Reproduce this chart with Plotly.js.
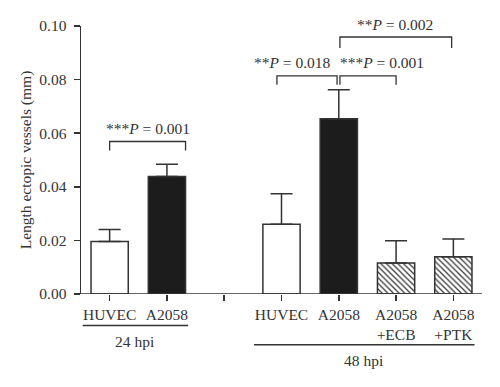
<!DOCTYPE html>
<html>
<head>
<meta charset="utf-8">
<script src="https://cdn.plot.ly/plotly-3.0.1.min.js"></script>
<style>html,body{margin:0;padding:0;background:#fff;}#chart{width:500px;height:387px;}</style>
</head>
<body>
<div id="chart"></div>
<script>
// Data
var positions = [0, 1, 3, 4, 5, 6];
var groups = ["24 hpi", "24 hpi", "48 hpi", "48 hpi", "48 hpi", "48 hpi"];
var tickLabels = ["HUVEC", "A2058", "", "HUVEC", "A2058", "A2058<br>+ECB", "A2058<br>+PTK"];
var tickPositions = [0, 1, 2, 3, 4, 5, 6];
var means = [0.0196, 0.0438, 0.0260, 0.0654, 0.0116, 0.0139];
var errUp = [0.0045, 0.0046, 0.0114, 0.0108, 0.0083, 0.0066];
var fillKind = ["open", "solid", "open", "solid", "hatch", "hatch"];
var pLabels = ["***<i>P</i> = 0.001", "**<i>P</i> = 0.018", "***<i>P</i> = 0.001", "**<i>P</i> = 0.002"];

var FONT = "Liberation Serif, Times New Roman, serif";
var INK = "#333333";
var FS = 15.5;

var traces = [];
var kinds = {open: {color: "#ffffff", pattern: {shape: ""}}, solid: {color: "#1c1c1c", pattern: {shape: ""}},
  hatch: {color: "#ffffff", pattern: {shape: "\\", fgcolor: "#333333", bgcolor: "#ffffff", size: 4, solidity: 0.3}}};
["open", "solid", "hatch"].forEach(function (k) {
  var xs = [], ys = [], es = [];
  for (var i = 0; i < positions.length; i++) {
    if (fillKind[i] === k) { xs.push(positions[i]); ys.push(means[i]); es.push(errUp[i]); }
  }
  traces.push({
    type: "bar", x: xs, y: ys, width: 0.65,
    marker: {color: kinds[k].color, pattern: kinds[k].pattern, line: {color: INK, width: 1.5}},
    error_y: {type: "data", symmetric: false, array: es, arrayminus: es.map(function () { return 0; }),
      color: INK, thickness: 1.5, width: 11},
    showlegend: false, hoverinfo: "skip", cliponaxis: false
  });
});

function bracket(x0, x1, yTop, yLeg) {
  return {type: "path", xref: "x", yref: "y",
    path: "M" + x0 + "," + yLeg + " L" + x0 + "," + yTop + " L" + x1 + "," + yTop + " L" + x1 + "," + yLeg,
    line: {color: INK, width: 1.3}};
}
var shapes = [
  bracket(0, 1.325, 0.0569, 0.0535),
  bracket(2.92, 3.97, 0.0814, 0.0781),
  bracket(4.02, 5.0, 0.0814, 0.0781),
  bracket(4.02, 5.97, 0.0959, 0.0918),
  // x axis line extended
  {type: "line", xref: "x", yref: "y", x0: -0.61, x1: 6.5, y0: 0, y1: 0, line: {color: INK, width: 1.5}},
  // group underlines
  {type: "line", xref: "x", yref: "paper", x0: -0.47, x1: 1.37, y0: -0.118, y1: -0.118, line: {color: INK, width: 1.5}},
  {type: "line", xref: "x", yref: "paper", x0: 2.52, x1: 6.37, y0: -0.189, y1: -0.189, line: {color: INK, width: 1.5}}
];

var annFont = {family: FONT, size: FS, color: INK};
var annotations = [
  {x: 0.67, y: (294.3 - 129) / 268.3, text: pLabels[0]},
  {x: 3.19, y: (294.3 - 63) / 268.3, text: pLabels[1]},
  {x: 4.75, y: (294.3 - 63) / 268.3, text: pLabels[2]},
  {x: 4.98, y: (294.3 - 24) / 268.3, text: pLabels[3]}
].map(function (a) {
  return {x: a.x, y: a.y, xref: "x", yref: "paper", text: a.text, showarrow: false, font: annFont,
    xanchor: "center", yanchor: "middle"};
});
annotations.push({x: 0.44, y: -0.177, xref: "x", yref: "paper", text: groups[0], showarrow: false, font: annFont, xanchor: "center", yanchor: "middle"});
annotations.push({x: 4.44, y: -0.249, xref: "x", yref: "paper", text: groups[2], showarrow: false, font: annFont, xanchor: "center", yanchor: "middle"});

var layout = {
  width: 500, height: 387,
  margin: {l: 81, r: 18, t: 26, b: 93},
  paper_bgcolor: "#ffffff", plot_bgcolor: "#ffffff",
  font: {family: FONT, size: FS, color: INK},
  bargap: 0,
  xaxis: {range: [-0.5, 6.5], tickvals: tickPositions, ticktext: tickLabels, showgrid: false, zeroline: false,
    showline: false, ticks: "outside", ticklen: 6, tickwidth: 1.5, tickcolor: INK, tickangle: 0,
    ticklabelstandoff: 0,
    tickfont: {family: FONT, size: FS, color: INK}, fixedrange: true},
  yaxis: {range: [0, 0.1], tickvals: [0, 0.02, 0.04, 0.06, 0.08, 0.1],
    ticktext: ["0.00", "0.02", "0.04", "0.06", "0.08", "0.10"], showgrid: false, zeroline: false,
    showline: true, linecolor: INK, linewidth: 1.5, ticks: "outside", ticklen: 6, tickwidth: 1.5, tickcolor: INK,
    ticklabelstandoff: 4,
    tickfont: {family: FONT, size: FS, color: INK},
    title: {text: "Length ectopic vessels (mm)", font: {family: FONT, size: FS, color: INK}, standoff: 4}},
  shapes: shapes,
  annotations: annotations
};

Plotly.newPlot("chart", traces, layout, {displayModeBar: false, staticPlot: true});
</script>
</body>
</html>
